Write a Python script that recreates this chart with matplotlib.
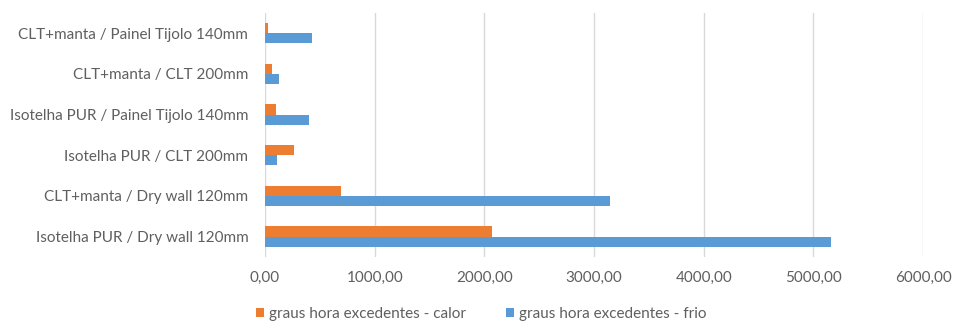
import matplotlib
matplotlib.use("Agg")
import matplotlib.pyplot as plt
import numpy as np
from matplotlib.ticker import FuncFormatter

# Configurações (de baixo para cima no eixo vertical)
categorias = [
    "Isotelha PUR / Dry wall 120mm",
    "CLT+manta / Dry wall 120mm",
    "Isotelha PUR / CLT 200mm",
    "Isotelha PUR / Painel Tijolo 140mm",
    "CLT+manta / CLT 200mm",
    "CLT+manta / Painel Tijolo 140mm",
]
calor = [2070, 690, 260, 100, 60, 30]
frio = [5160, 3150, 105, 400, 130, 430]
serie_calor = "graus hora excedentes - calor"
serie_frio = "graus hora excedentes - frio"
xticks = [0, 1000, 2000, 3000, 4000, 5000, 6000]

plt.rcParams["font.family"] = ["Lato", "DejaVu Sans"]
texto = "#5f5f5f"

fig = plt.figure(figsize=(9.62, 3.22), dpi=100)
ax = fig.add_axes([0.2755, 0.202, 0.684, 0.758])

y = np.arange(len(categorias))
h = 0.25
ax.barh(y + h / 2, calor, height=h, color="#ED7D31", label=serie_calor)
ax.barh(y - h / 2, frio, height=h, color="#5B9BD5", label=serie_frio)

ax.set_xlim(0, 6000)
ax.set_ylim(-0.5, len(categorias) - 0.5)
ax.set_xticks(xticks)
ax.xaxis.set_major_formatter(FuncFormatter(lambda v, p: f"{v:.2f}".replace(".", ",")))
ax.set_yticks(y)
ax.set_yticklabels(categorias)
ax.tick_params(axis="both", length=0, labelsize=11, colors=texto)
ax.tick_params(axis="x", pad=10)
ax.tick_params(axis="y", pad=12)

ax.grid(axis="x", color="#D9D9D9", linewidth=1)
ax.set_axisbelow(True)
for s in ax.spines.values():
    s.set_visible(False)

leg = fig.legend(loc="lower center", bbox_to_anchor=(0.5, -0.04), ncol=2, frameon=False,
                 fontsize=11, handlelength=0.55, handleheight=0.55, handletextpad=0.3,
                 columnspacing=2.6)
for t in leg.get_texts():
    t.set_color(texto)

fig.savefig("out.png", dpi=100)
